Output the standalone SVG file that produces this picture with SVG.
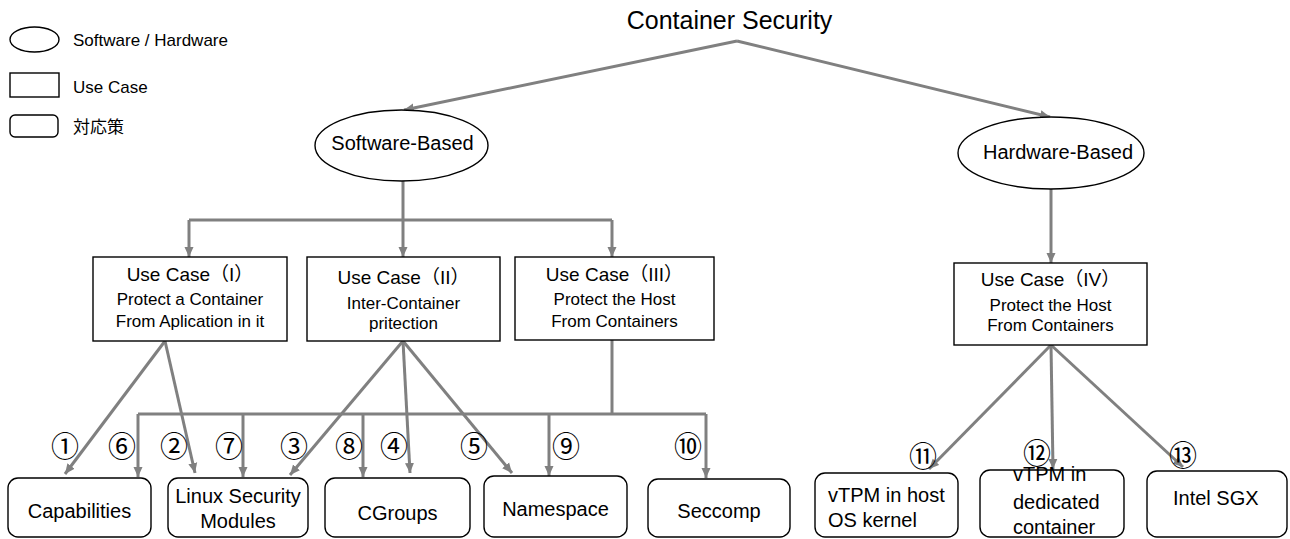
<svg xmlns="http://www.w3.org/2000/svg" width="1290" height="539" viewBox="0 0 1290 539">
<style>
text{font-family:"Liberation Sans","Noto Sans CJK JP",Arial,sans-serif;fill:#000}
.shape{fill:#fff;stroke:#000;stroke-width:1.4}
.conn{fill:none;stroke:#808080;stroke-width:3}
.t20{font-size:20px}
.uc{font-size:19px;text-anchor:middle}
.sub{font-size:17px;text-anchor:middle}
.leg{font-size:17px}
.num{font-family:"Noto Sans CJK JP","DejaVu Sans",sans-serif;font-size:28px;text-anchor:middle}
.mid{text-anchor:middle}
</style>
<defs>
<marker id="ah" markerUnits="userSpaceOnUse" markerWidth="11" markerHeight="10" refX="10" refY="5" orient="auto">
<path d="M0,0.5 L10,5 L0,9.5 z" fill="#808080"/>
</marker>
</defs>

<g id="legend">
<ellipse class="shape" cx="34.5" cy="39.5" rx="24.5" ry="12.5"/>
<text class="leg" x="73" y="46">Software / Hardware</text>
<rect class="shape" x="10" y="73" width="49" height="24"/>
<text class="leg" x="73" y="93">Use Case</text>
<rect class="shape" x="10" y="115" width="48" height="22" rx="5"/>
<text class="leg" x="73" y="133">対応策</text>
</g>

<g id="connectors">
<path class="conn" d="M737,41 L404,110" marker-end="url(#ah)"/>
<path class="conn" d="M737,41 L1050,117" marker-end="url(#ah)"/>
<path class="conn" d="M403,181 V220"/>
<path class="conn" d="M189,220 H612"/>
<path class="conn" d="M189,220 V257" marker-end="url(#ah)"/>
<path class="conn" d="M403,220 V257" marker-end="url(#ah)"/>
<path class="conn" d="M612,220 V257" marker-end="url(#ah)"/>
<path class="conn" d="M1051,189 V263" marker-end="url(#ah)"/>
<path class="conn" d="M165,341 L65,474" marker-end="url(#ah)"/>
<path class="conn" d="M165,341 L195,473" marker-end="url(#ah)"/>
<path class="conn" d="M403,341 L290,475" marker-end="url(#ah)"/>
<path class="conn" d="M403,341 L410,473" marker-end="url(#ah)"/>
<path class="conn" d="M403,341 L512,473" marker-end="url(#ah)"/>
<path class="conn" d="M612,340 V414"/>
<path class="conn" d="M138,414 H706"/>
<path class="conn" d="M138,414 V477" marker-end="url(#ah)"/>
<path class="conn" d="M243,414 V477" marker-end="url(#ah)"/>
<path class="conn" d="M363,414 V477" marker-end="url(#ah)"/>
<path class="conn" d="M549,414 V476" marker-end="url(#ah)"/>
<path class="conn" d="M706,414 V478" marker-end="url(#ah)"/>
<path class="conn" d="M1051,345 L929,469" marker-end="url(#ah)"/>
<path class="conn" d="M1051,345 L1053,469" marker-end="url(#ah)"/>
<path class="conn" d="M1051,345 L1183,467" marker-end="url(#ah)"/>
</g>

<g id="labels">
<text class="num" x="65" y="457">①</text>
<text class="num" x="122" y="457">⑥</text>
<text class="num" x="174" y="457">②</text>
<text class="num" x="229" y="457">⑦</text>
<text class="num" x="294" y="457">③</text>
<text class="num" x="349" y="457">⑧</text>
<text class="num" x="394" y="457">④</text>
<text class="num" x="474" y="457">⑤</text>
<text class="num" x="566" y="457">⑨</text>
<text class="num" x="688" y="457">⑩</text>
<text class="num" x="923" y="467">⑪</text>
<text class="num" x="1037" y="464">⑫</text>
<text class="num" x="1183" y="466">⑬</text>
</g>

<g id="title">
<text x="729.5" y="29" class="mid" style="font-size:25px">Container Security</text>
</g>

<g id="software-based">
<ellipse class="shape" cx="401.5" cy="145.5" rx="86.5" ry="35.5"/>
<text class="t20 mid" x="402.5" y="150">Software-Based</text>
</g>

<g id="hardware-based">
<ellipse class="shape" cx="1051" cy="153" rx="93" ry="36"/>
<text class="t20 mid" x="1058" y="159">Hardware-Based</text>
</g>

<g id="usecase-1">
<rect class="shape" x="93" y="257" width="194" height="84"/>
<text class="uc" x="190" y="281">Use Case（I）</text>
<text class="sub" x="190" y="305">Protect a Container</text>
<text class="sub" x="190" y="327">From Aplication in it</text>
</g>

<g id="usecase-2">
<rect class="shape" x="307" y="257" width="193" height="84"/>
<text class="uc" x="403.5" y="284">Use Case（II）</text>
<text class="sub" x="403.5" y="309">Inter-Container</text>
<text class="sub" x="403.5" y="329">pritection</text>
</g>

<g id="usecase-3">
<rect class="shape" x="515" y="257" width="199" height="83"/>
<text class="uc" x="614.5" y="281">Use Case（III）</text>
<text class="sub" x="614.5" y="305">Protect the Host</text>
<text class="sub" x="614.5" y="327">From Containers</text>
</g>

<g id="usecase-4">
<rect class="shape" x="954" y="263" width="193" height="82"/>
<text class="uc" x="1050.5" y="286">Use Case（IV）</text>
<text class="sub" x="1050.5" y="311">Protect the Host</text>
<text class="sub" x="1050.5" y="331">From Containers</text>
</g>

<g id="capabilities">
<rect class="shape" x="8" y="478" width="143" height="59" rx="10"/>
<text class="t20 mid" x="79.5" y="518">Capabilities</text>
</g>

<g id="lsm">
<rect class="shape" x="168" y="478" width="140" height="59" rx="10"/>
<text class="t20 mid" x="238" y="503">Linux Security</text>
<text class="t20 mid" x="238" y="528">Modules</text>
</g>

<g id="cgroups">
<rect class="shape" x="325" y="478" width="145" height="59" rx="10"/>
<text class="t20 mid" x="397.5" y="520">CGroups</text>
</g>

<g id="namespace">
<rect class="shape" x="484" y="476" width="143" height="61" rx="10"/>
<text class="t20 mid" x="555.5" y="516">Namespace</text>
</g>

<g id="seccomp">
<rect class="shape" x="648" y="479" width="142" height="58" rx="10"/>
<text class="t20 mid" x="719" y="518">Seccomp</text>
</g>

<g id="vtpm-host">
<rect class="shape" x="815" y="473" width="143" height="64" rx="10"/>
<text class="t20" x="828" y="502">vTPM in host</text>
<text class="t20" x="828" y="527">OS kernel</text>
</g>

<g id="vtpm-container">
<rect class="shape" x="980" y="470" width="144" height="67" rx="10"/>
<text class="t20" x="1013" y="481">vTPM in</text>
<text class="t20" x="1013" y="509">dedicated</text>
<text class="t20" x="1013" y="534">container</text>
</g>

<g id="intel-sgx">
<rect class="shape" x="1147" y="471" width="140" height="66" rx="10"/>
<text class="t20" x="1173" y="505">Intel SGX</text>
</g>
</svg>
